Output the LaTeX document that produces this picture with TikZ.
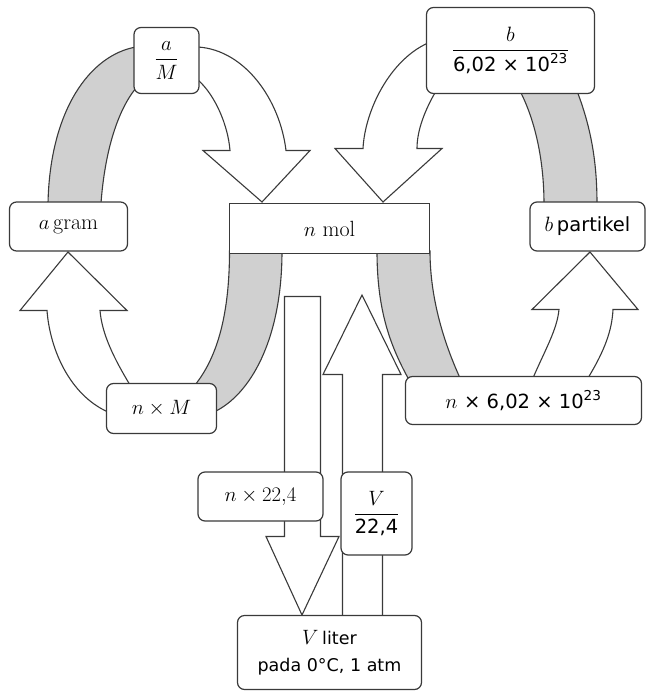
\documentclass[tikz,border=0pt]{standalone}
\usepackage{amsmath}
\usepackage{fontspec}
\newfontfamily\vsansf{DejaVu Sans}
\newcommand{\vsans}{\vsansf\fontsize{19.5}{24}\selectfont}
\newcommand{\vsanss}{\vsansf\fontsize{17.5}{22}\selectfont}
\usetikzlibrary{backgrounds}
\definecolor{linec}{HTML}{3A3A3A}
\definecolor{bandc}{HTML}{D0D0D0}
\begin{document}
\begin{tikzpicture}[x=1pt,y=-1pt,
  box/.style={draw=linec,line width=1.2pt,fill=white,rounded corners=7pt,inner sep=0pt,align=center,
    font=\fontsize{22}{26}\selectfont},
  sbox/.style={box,rounded corners=0pt},
  band/.style={draw=linec,line width=1.1pt,fill=bandc},
  arr/.style={draw=linec,line width=1.1pt,fill=white,line join=miter}]
\useasboundingbox (0,0) rectangle (648,691);
% nodes
\node[box,minimum width=65pt,minimum height=66pt] (aM) at (166.5,60.5) {$\dfrac{a}{M}$};
\node[box,minimum width=118pt,minimum height=49pt] (agram) at (68.5,226.5) {$a$\,gram};
\node[sbox,minimum width=200pt,minimum height=50pt] (nmol) at (329.5,228.5) {$n$ mol};
\node[box,minimum width=168pt,minimum height=86pt] (bfrac) at (510.5,50.5) {$\dfrac{b}{\text{\vsans 6,02 × 10\textsuperscript{23}}}$};
\node[box,minimum width=115pt,minimum height=49pt] (bpart) at (587.5,226.5) {$b$\,{\vsans partikel}};
\node[box,minimum width=110pt,minimum height=50pt] (nM) at (161.5,408.5) {$n\times M$};
\node[box,minimum width=236pt,minimum height=48pt] (n602) at (523.5,400.5) {$n$ {\vsans × 6,02 × 10\textsuperscript{23}}};
\node[box,minimum width=125pt,minimum height=49pt] (n224) at (260.5,496.5) {$n\times 22{,}4$};
\node[box,minimum width=71pt,minimum height=83pt] (V224) at (376.5,513.5) {$\dfrac{V}{\text{\vsans 22,4}}$};
\node[box,minimum width=184pt,minimum height=74pt] (Vliter) at (329.5,652.5) {$V$\,{\vsanss liter}\\[1pt]{\vsanss pada 0°C, 1 atm}};
\begin{scope}[on background layer]
% band top-left
\draw[band] (48,203) .. controls (50,110) and (90,55) .. (136,47) -- (136,88) .. controls (118,110) and (105,150) .. (101,203) -- cycle;
% arrow top-left
\draw[arr] (198,47) .. controls (245,50) and (280,100) .. (286,150.5) -- (310,150.5) -- (262,202) -- (203,150.5) -- (230,150.5) .. controls (228,125) and (215,95) .. (198,80) -- cycle;
% arrow top-right
\draw[arr] (428,43) .. controls (390,60) and (365,110) .. (363,148.5) -- (335,148.5) -- (383,202) -- (442,148.5) -- (417,148.5) .. controls (417,130) and (425,110) .. (436,91) -- cycle;
% band top-right
\draw[band] (520,91) .. controls (535,120) and (544,160) .. (544,204) -- (597,204) .. controls (597,165) and (592,130) .. (577,91) -- cycle;
% band under n mol, left
\draw[band] (229.5,251) .. controls (229.5,320) and (215,360) .. (195,385) -- (214,412) .. controls (250,395) and (282,340) .. (282,251) -- cycle;
% arrow bottom-left
\draw[arr] (108,412) .. controls (70,395) and (50,350) .. (47,310.5) -- (20,310.5) -- (68,252) -- (127,310.5) -- (100,310.5) .. controls (102,335) and (115,360) .. (130,385) -- cycle;
% band under n mol, right
\draw[band] (377,251) .. controls (377,310) and (390,345) .. (408,378) -- (460,378) .. controls (445,345) and (430,300) .. (430,251) -- cycle;
% arrow bottom-right
\draw[arr] (533,378) .. controls (545,350) and (557,330) .. (559,309.5) -- (532,309.5) -- (590,252) -- (638,309.5) -- (613,309.5) .. controls (612,330) and (605,350) .. (588,378) -- cycle;
% down arrow
\draw[arr] (284.5,296.5) -- (320.5,296.5) -- (320.5,536.5) -- (339,536.5) -- (302,615) -- (266,536.5) -- (284.5,536.5) -- cycle;
% up arrow
\draw[arr] (342.5,617) -- (342.5,374.5) -- (323,374.5) -- (362,295) -- (401,374.5) -- (382.5,374.5) -- (382.5,617) -- cycle;
\end{scope}
\end{tikzpicture}
\end{document}
